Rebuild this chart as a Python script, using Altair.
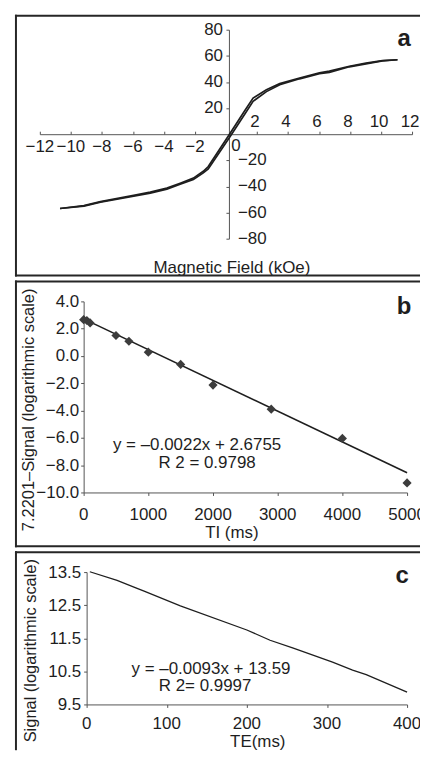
import altair as alt
import pandas as pd

FONT = "Liberation Sans"
INK = "#1e1e1e"
AXC = "#555555"
FRAME = "#262626"

# ---------------- panel a : magnetisation loop ----------------
a_field = [-10.70, -9.16, -8.09, -5.95, -4.88, -3.81, -2.95, -2.10, -1.46, -1.14, 0.26,
           1.22, 1.75, 2.61, 3.47, 4.75, 6.03, 6.67, 7.96, 9.03, 10.09, 11.06]
a_m_down = [-56.9, -54.7, -51.6, -46.9, -44.3, -41.3, -37.5, -33.6, -28.4, -24.8, 0.5,
            18.2, 27.6, 34.0, 38.7, 43.0, 47.0, 48.3, 52.0, 54.4, 56.3, 57.0]
a_m_up = [-56.9, -55.1, -52.0, -47.5, -45.1, -42.1, -38.3, -34.6, -29.6, -26.6, -2.0,
          15.4, 25.2, 32.6, 37.9, 42.4, 46.4, 47.3, 51.6, 53.8, 56.1, 57.0]
a_xticks_neg = [-12, -10, -8, -6, -4, -2]
a_xticks_pos = [2, 4, 6, 8, 10, 12]
a_yticks_pos = [20, 40, 60, 80]
a_yticks_neg = [-20, -40, -60, -80]
a_title = ["Magnetic Field (kOe)"]
a_letter = ["a"]

# ---------------- panel b : inversion recovery ----------------
b_ti = [0, 50, 100, 500, 700, 1000, 1500, 2000, 2900, 4000, 5000]
b_sig = [2.66, 2.6, 2.42, 1.5, 1.08, 0.28, -0.62, -2.13, -3.9, -6.04, -9.3]
b_fit_ti = [0, 5000]
b_fit_sig = [2.72, -8.55]
b_xticks = [0, 1000, 2000, 3000, 4000, 5000]
b_yticks = [-10, -8, -6, -4, -2, 0, 2, 4]
b_eq = ["y = \u20130.0022x + 2.6755", "R 2 = 0.9798"]
b_xtitle = ["TI (ms)"]
b_ytitle = ["7.2201\u2013Signal (logarithmic scale)"]
b_letter = ["b"]

# ---------------- panel c : spin echo ----------------
c_te = [4, 38, 63, 71, 117, 200, 229, 258, 307, 332, 349, 400]
c_sig = [13.51, 13.25, 13.01, 12.93, 12.48, 11.75, 11.44, 11.2, 10.78, 10.54, 10.4, 9.87]
c_xticks = [0, 100, 200, 300, 400]
c_yticks = [9.5, 10.5, 11.5, 12.5, 13.5]
c_eq = ["y = \u20130.0093x + 13.59", "R 2= 0.9997"]
c_xtitle = ["TE(ms)"]
c_ytitle = ["Signal (logarithmic scale)"]
c_letter = ["c"]

W = 407  # every panel spans from the frame's left edge to the right edge of the page


def txt(values, x, y, size=17, align="center", baseline="middle", angle=0, bold=False, clip=False):
    df = pd.DataFrame({"t": values})
    return alt.Chart(df).mark_text(
        font=FONT, fontSize=size, align=align, baseline=baseline, angle=angle,
        fontWeight="bold" if bold else "normal", color=INK, clip=clip,
    ).encode(x=alt.value(x), y=alt.value(y), text="t:N")


def frame(h, bottom=True):
    one = pd.DataFrame({"k": [0]})
    parts = [
        alt.Chart(one).mark_rule(color=FRAME, strokeWidth=2).encode(
            x=alt.value(0), x2=alt.value(W), y=alt.value(1)),
        alt.Chart(one).mark_rule(color=FRAME, strokeWidth=2).encode(
            x=alt.value(1), y=alt.value(0), y2=alt.value(h)),
    ]
    if bottom:
        parts.append(alt.Chart(one).mark_rule(color=FRAME, strokeWidth=2).encode(
            x=alt.value(0), x2=alt.value(W), y=alt.value(h - 1)))
    return parts


# ======== panel a ========
HA = 263
xa = alt.X("H:Q", scale=alt.Scale(domain=[-12, 12], range=[25, 399], nice=False, zero=False),
           axis=alt.Axis(orient="top", offset=-120, values=a_xticks_neg + a_xticks_pos,
                         labels=False, title=None, grid=False, tickSize=3))
ya = alt.Y("M:Q", scale=alt.Scale(domain=[-80, 80], range=[225, 15], nice=False, zero=False),
           axis=alt.Axis(orient="left", offset=-215, values=a_yticks_neg + a_yticks_pos,
                         labels=False, title=None, grid=False, tickSize=3))
n = len(a_field)
df_loop = pd.DataFrame({
    "H": a_field + a_field,
    "M": a_m_down + a_m_up,
    "branch": ["down"] * n + ["up"] * n,
    "i": list(range(n)) * 2,
})
loop = alt.Chart(df_loop).mark_line(color=INK, strokeWidth=1.7).encode(
    x=xa, y=ya, detail="branch:N", order="i:Q")

xl_pos = alt.Chart(pd.DataFrame({"H": a_xticks_pos})).mark_text(
    font=FONT, fontSize=17, baseline="middle", color=INK, dx=-2).encode(
    x=xa, y=alt.value(108), text=alt.Text("H:Q", format="d"))
xl_neg = alt.Chart(pd.DataFrame({"H": a_xticks_neg})).mark_text(
    font=FONT, fontSize=17, baseline="middle", color=INK).encode(
    x=xa, y=alt.value(133), text=alt.Text("H:Q", format="d"))
yl_pos = alt.Chart(pd.DataFrame({"M": a_yticks_pos})).mark_text(
    font=FONT, fontSize=17, baseline="middle", align="right", color=INK).encode(
    x=alt.value(209), y=ya, text=alt.Text("M:Q", format="d"))
yl_neg = alt.Chart(pd.DataFrame({"M": a_yticks_neg})).mark_text(
    font=FONT, fontSize=17, baseline="middle", align="left", color=INK).encode(
    x=alt.value(224), y=ya, text=alt.Text("M:Q", format="d"))

panel_a = alt.layer(
    loop, xl_pos, xl_neg, yl_pos, yl_neg,
    txt(["0"], 222, 132),
    txt(a_title, 218, 254),
    txt(a_letter, 391, 31, size=24, baseline="alphabetic", bold=True),
    *frame(HA),
).properties(width=W, height=HA)

# ======== panel b ========
HB = 268
xb = alt.X("TI:Q", scale=alt.Scale(domain=[0, 5000], range=[69, 394], nice=False, zero=False),
           axis=alt.Axis(orient="bottom", offset=213 - HB, values=b_xticks, labels=False,
                         title=None, grid=False, tickSize=3))
yb = alt.Y("S:Q", scale=alt.Scale(domain=[-10, 4], range=[213, 21], nice=False, zero=False),
           axis=alt.Axis(orient="left", offset=-69, values=b_yticks, format=".1f",
                         title=None, grid=False, labelOverlap=False, tickSize=3, labelPadding=2))
pts_b = alt.Chart(pd.DataFrame({"TI": b_ti, "S": b_sig})).mark_point(
    shape="diamond", filled=True, size=85, color="#3c3c3c", opacity=1).encode(x=xb, y=yb)
fit_b = alt.Chart(pd.DataFrame({"TI": b_fit_ti, "S": b_fit_sig})).mark_line(
    color=INK, strokeWidth=1.6).encode(x=xb, y=yb)
xl_b = alt.Chart(pd.DataFrame({"TI": b_xticks})).mark_text(
    font=FONT, fontSize=17, baseline="middle", color=INK, clip=True).encode(
    x=xb, y=alt.value(236), text=alt.Text("TI:Q", format="d"))

panel_b = alt.layer(
    fit_b, pts_b, xl_b,
    txt(b_eq[:1], 183, 165),
    txt(b_eq[1:], 193, 183),
    txt(b_xtitle, 218, 254),
    txt(b_ytitle, 19, 130, size=16.5, baseline="alphabetic", angle=270),
    txt(b_letter, 391, 34, size=24, baseline="alphabetic", bold=True),
    *frame(HB),
).properties(width=W, height=HB)

# ======== panel c ========
HC = 200
xc = alt.X("TE:Q", scale=alt.Scale(domain=[0, 400], range=[72, 394], nice=False, zero=False),
           axis=alt.Axis(orient="bottom", offset=154 - HC, values=c_xticks, labels=False,
                         title=None, grid=False, tickSize=3))
yc = alt.Y("S:Q", scale=alt.Scale(domain=[9.5, 13.5], range=[154, 21], nice=False, zero=False),
           axis=alt.Axis(orient="left", offset=-72, values=c_yticks, format=".1f",
                         title=None, grid=False, labelOverlap=False, tickSize=3, labelPadding=3))
line_c = alt.Chart(pd.DataFrame({"TE": c_te, "S": c_sig})).mark_line(
    color=INK, strokeWidth=1.3).encode(x=xc, y=yc)
xl_c = alt.Chart(pd.DataFrame({"TE": c_xticks})).mark_text(
    font=FONT, fontSize=17, baseline="middle", color=INK, clip=True).encode(
    x=xc, y=alt.value(174), text=alt.Text("TE:Q", format="d"))

panel_c = alt.layer(
    line_c, xl_c,
    txt(c_eq[:1], 197, 118),
    txt(c_eq[1:], 191, 136),
    txt(c_xtitle, 244, 192, clip=True),
    txt(c_ytitle, 21, 100, size=16.5, baseline="alphabetic", angle=270),
    txt(c_letter, 389, 32, size=24, baseline="alphabetic", bold=True),
    *frame(HC, bottom=False),
).properties(width=W, height=HC)

chart = alt.vconcat(panel_a, panel_b, panel_c, spacing=4, bounds="flush").properties(
    padding={"left": 6, "top": 4, "right": 0, "bottom": 0}
).configure_view(
    strokeOpacity=0
).configure_axis(
    labelFont=FONT, labelFontSize=17, labelColor=INK,
    domainColor=AXC, tickColor=AXC, domainWidth=1, tickWidth=1,
)

chart.save("out.html", embed_options={"renderer": "svg", "actions": False})
